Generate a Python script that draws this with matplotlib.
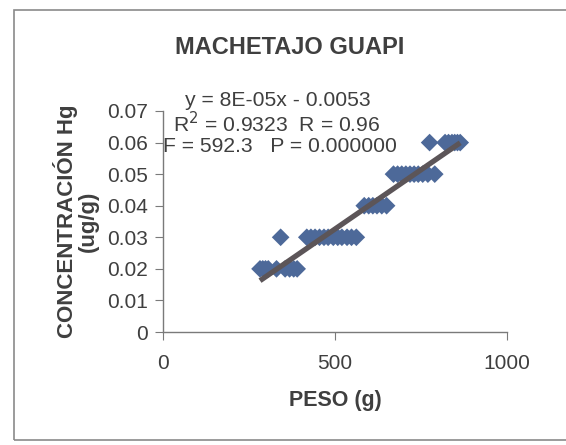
import numpy as np
import matplotlib
matplotlib.use("Agg")
import matplotlib.pyplot as plt
from matplotlib.patches import Rectangle

plt.rcParams['font.family'] = ['Liberation Sans', 'DejaVu Sans']

# Data
peso_020 = [282, 290, 298, 306, 330, 355, 368, 380, 390]
peso_030 = [342, 418, 430, 442, 455, 468, 480, 495, 508, 520, 535, 548, 562]
peso_040 = [585, 598, 610, 622, 636, 650]
peso_050 = [670, 682, 694, 706, 718, 730, 742, 755, 770, 790]
peso_060 = [775, 820, 830, 840, 848, 856, 864]
conc_levels = [0.02, 0.03, 0.04, 0.05, 0.06]

title = "MACHETAJO GUAPI"
xlabel = "PESO (g)"
ylabel = "CONCENTRACIÓN Hg\n(ug/g)"
eq_lines = ["y = 8E-05x - 0.0053", "R$^2$ = 0.9323  R = 0.96", "F = 592.3   P = 0.000000"]
xticks = [0, 500, 1000]
yticks = [0, 0.01, 0.02, 0.03, 0.04, 0.05, 0.06, 0.07]

groups = [peso_020, peso_030, peso_040, peso_050, peso_060]
x = np.concatenate([np.array(g, float) for g in groups])
y = np.concatenate([np.full(len(g), c) for g, c in zip(groups, conc_levels)])

fig = plt.figure(figsize=(5.66, 4.45), dpi=100)
fig.patches.append(Rectangle((14/566, 5/445), 1.0, 430/445, transform=fig.transFigure,
                             fill=False, edgecolor='#8a8a8a', linewidth=1.2))

ax = fig.add_axes([163/566, 1-332/445, 344/566, 221/445])
txt = '#3f3f3f'
ax.scatter(x, y, marker='D', s=9.0**2, color='#4d6999', edgecolors='none', zorder=2)
slope, intercept = np.polyfit(x, y, 1)
xs = np.array([x.min(), x.max()])
ax.plot(xs, slope*xs + intercept, color='#5c5558', linewidth=3.8, solid_capstyle='butt', zorder=3)

ax.set_xlim(0, 1000)
ax.set_ylim(0, 0.07)
ax.set_xticks(xticks)
ax.set_xticklabels([str(t) for t in xticks])
ax.set_yticks(yticks)
ax.set_yticklabels(['0'] + [f"{t:.2f}" for t in yticks[1:]])
for s in ['top', 'right']:
    ax.spines[s].set_visible(False)
for s in ['left', 'bottom']:
    ax.spines[s].set_color('#7a7a7a')
    ax.spines[s].set_linewidth(1.0)
ax.tick_params(axis='both', colors='#7a7a7a', labelcolor=txt, labelsize=15, length=6, direction='out')
ax.tick_params(axis='x', pad=10)
ax.tick_params(axis='y', pad=5)

ax.set_xlabel(xlabel, fontsize=15.5, fontweight='bold', color=txt, labelpad=12)
ax.set_ylabel(ylabel, fontsize=16, fontweight='bold', color=txt, labelpad=6, linespacing=1.0)
fig.text(290/566, 1-47/445, title, ha='center', va='center', fontsize=17, fontweight='bold', color=txt)

for i, (line, xc) in enumerate(zip(eq_lines, [278, 277, 280])):
    fig.text(xc/566, 1-(100 + 23.5*i)/445, line, ha='center', va='center', fontsize=15.2, color=txt)

fig.savefig("out.png", dpi=100)
